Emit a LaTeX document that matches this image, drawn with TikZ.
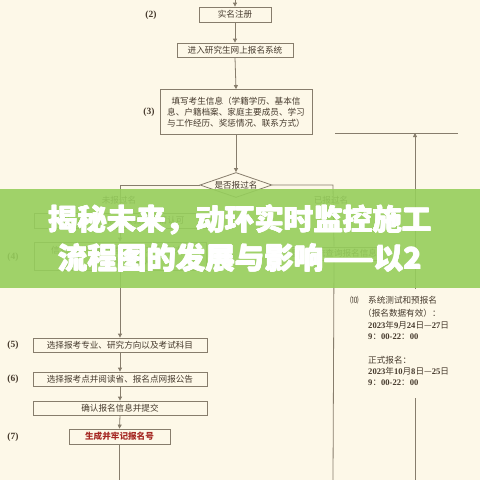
\documentclass[tikz,border=0pt]{standalone}
\usepackage{fontspec}
\setmainfont{Noto Sans CJK SC}
\newfontfamily\numfont{Liberation Serif}
\newfontfamily\bannerfont{Noto Sans CJK SC}
\usetikzlibrary{arrows.meta,shapes.geometric}
\definecolor{bg}{RGB}{253,248,232}
\definecolor{ln}{RGB}{135,125,108}
\definecolor{tx}{RGB}{70,58,45}
\definecolor{rd}{RGB}{165,40,35}
\definecolor{gr}{RGB}{150,206,92}
\definecolor{grd}{RGB}{90,130,50}
\newcommand\mydg[1]{{\numfont\bfseries #1}}
\begin{document}
\begin{tikzpicture}[x=1pt,y=-1pt,
  box/.style={draw=ln, line width=0.8pt, fill=bg, inner sep=0pt, minimum height=14pt,
    font=\fontsize{8.6}{11}\selectfont, text=tx, align=center},
  con/.style={draw=ln, line width=0.8pt},
  arr/.style={con, -{Triangle[length=4pt,width=4pt]}},
  lbl/.style={font=\numfont\bfseries\fontsize{9.5}{11}\selectfont, text=tx},
  brl/.style={font=\fontsize{8.6}{11}\selectfont, text=tx},
  side/.style={font=\fontsize{8.6}{11}\selectfont, text=tx, anchor=west, inner sep=0pt},
  ban/.style={font=\bannerfont\bfseries\fontsize{29.5}{32}\selectfont, text=white, inner sep=0pt}
]
\fill[bg] (0,0) rectangle (480,480);
\useasboundingbox (0,0) rectangle (480,480);

% main column
\coordinate (top) at (235,0);
\node[box, minimum width=72pt, minimum height=15pt] (b1) at (235,14.5) {实名注册};
\node[lbl] (l2) at (151,15) {(2)};
\node[box, minimum width=116pt] (b2) at (235,50) {进入研究生网上报名系统};
\node[box, minimum width=152pt, minimum height=45pt] (b3) at (236,112)
  {填写考生信息（学籍学历、基本信\\息、户籍档案、家庭主要成员、学习\\与工作经历、奖惩情况、联系方式）};
\node[lbl] (l3) at (149,112) {(3)};
\node[draw=ln, line width=0.8pt, fill=bg, shape=diamond, aspect=2.8, inner sep=0pt,
  minimum width=72pt, minimum height=25pt, font=\fontsize{8.6}{11}\selectfont, text=tx] (dia) at (236,185) {是否报过名};

\draw[arr] (top) -- (b1.north);
\draw[arr] (b1.south) -- (b2.north);
\draw[arr] (b2.south) -- (b3.north);
\draw[arr] (b3.south) -- (dia.north);

% left branch
\coordinate (dl) at (120,185);
\node[brl] (nl) at (119,200) {未报过名};
\node[box, minimum width=172pt, minimum height=15pt] (bA) at (120,220.5) {学历（学籍）信息校验并申请认可};
\node[box, minimum width=172pt, minimum height=28pt] (bB) at (120,256) {信息核验不通过者，按要求上传材料\\并等待审核确认};
\node[lbl] (l4) at (13,257) {(4)};
\node[box, minimum width=174pt] (b5) at (120,345) {选择报考专业、研究方向以及考试科目};
\node[lbl] (l5) at (13,345) {(5)};
\node[box, minimum width=174pt] (b6) at (120,379) {选择报考点并阅读省、报名点网报公告};
\node[lbl] (l6) at (13,379) {(6)};
\node[box, minimum width=174pt] (b6b) at (120,408) {确认报名信息并提交};
\node[box, minimum width=101pt, minimum height=15pt, text=rd, font=\bfseries\fontsize{8.6}{11}\selectfont] (b7) at (119.5,436.5) {生成并牢记报名号};
\node[lbl] (l7) at (13,437) {(7)};
\coordinate (lend) at (119.5,480);

\draw[con] (dia.west) -- (dl);
\draw[arr] (dl) -- (bA.north);
\draw[arr] (bA.south) -- (bB.north);
\draw[arr] (bB.south) -- (b5.north);
\draw[arr] (b5.south) -- (b6.north);
\draw[arr] (b6.south) -- (b6b.north);
\draw[arr] (b6b.south) -- (b7.north);
\draw[con] (b7.south) -- (lend);

% right branch
\coordinate (dr) at (333,185);
\node[brl] (nr) at (331,200) {已报过名};
\node[box, minimum width=96pt, minimum height=13pt] (bR) at (334,253.5) {登录系统查询报名信息};
\coordinate (rend) at (333,480);
\draw[con] (dia.east) -- (dr) -- (bR.north);
\draw[con] (bR.south) -- (rend);

% far right
\coordinate (hl) at (335,133);
\coordinate (hr) at (458,133);
\coordinate (hm) at (415,133);
\coordinate (vt) at (415,289);
\coordinate (vb) at (415,398);
\coordinate (vbe) at (415,480);
\draw[con] (hl) -- (hr);
\draw[arr] (vt) -- (hm);
\draw[con] (vb) -- (vbe);

\node[side] (r0) at (350,300) {⑽};
\node[side] (r1) at (368,300) {系统测试和预报名};
\node[side] (r2) at (363,313) {（报名数据有效）：};
\node[side] (r3) at (368,325) {\mydg{2023}年\mydg{9}月\mydg{24}日—\mydg{27}日};
\node[side] (r4) at (368,337) {\mydg{9}：\mydg{00-22}：\mydg{00}};
\node[side] (r5) at (368,360) {正式报名：};
\node[side] (r6) at (368,371) {\mydg{2023}年\mydg{10}月\mydg{8}日—\mydg{25}日};
\node[side] (r7) at (368,383) {\mydg{9}：\mydg{00-22}：\mydg{00}};

% banner
\fill[gr, opacity=0.9] (0,189) rectangle (480,288);
\foreach \dx/\dy [count=\i] in {-0.4/0,0.4/0,0/-0.4,0/0.4} {
  \node[ban] (t1x\i) at (240+\dx,220+\dy) {揭秘未来，动环实时监控施工};
  \node[ban] (t2x\i) at (240+\dx,258+\dy) {流程图的发展与影响——以2};
}
\node[ban] (t1) at (240,220) {揭秘未来，动环实时监控施工};
\node[ban] (t2) at (240,258) {流程图的发展与影响——以2};
\end{tikzpicture}
\end{document}
